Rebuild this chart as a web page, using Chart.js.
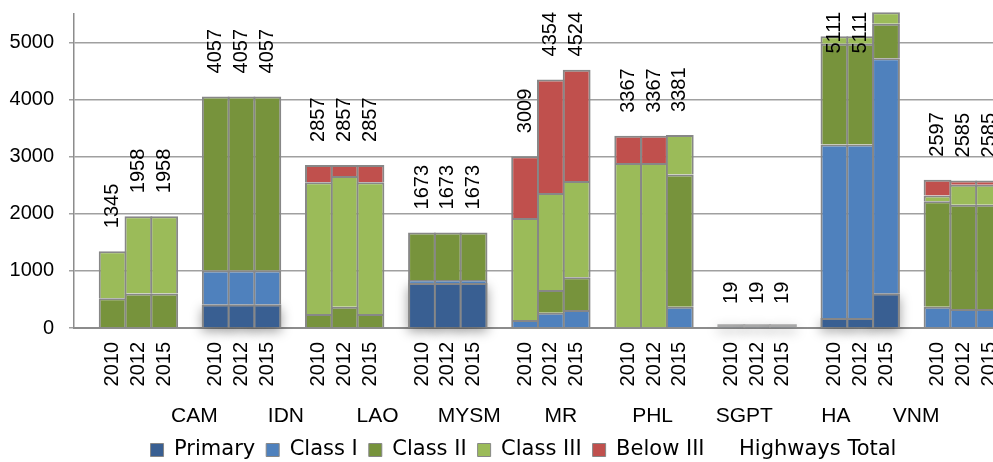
<!DOCTYPE html>
<html>
<head>
<meta charset="utf-8">
<title>Highways by class</title>
<script src="https://cdn.jsdelivr.net/npm/chart.js@4.4.1/dist/chart.umd.min.js"></script>
<style>
  html, body { margin: 0; padding: 0; background: #fff; overflow: hidden; }
  #carreteras { display: block; }
</style>
</head>
<body>
<canvas id="carreteras" width="1002" height="462"></canvas>
<script>
// Países y años (tres barras por país)
const countries = ['CAM', 'IDN', 'LAO', 'MYSM', 'MR', 'PHL', 'SGPT', 'HA', 'VNM'];
const years = ['2010', '2012', '2015'];
const yTicks = [0, 1000, 2000, 3000, 4000, 5000];

// Longitud por clase, en orden país/año (2010, 2012, 2015)
const primary  = [0, 0, 0,  410, 410, 410,  0, 0, 0,  790, 790, 790,  0, 0, 0,  0, 0, 0,  19, 19, 19,  175, 175, 606,  0, 0, 0];
const class1   = [0, 0, 0,  595, 595, 595,  0, 0, 0,  50, 50, 50,  140, 268, 315,  0, 0, 373,  0, 0, 0,  3037, 3037, 4119,  373, 333, 333];
const class2   = [519, 606, 606,  3052, 3052, 3052,  245, 373, 245,  833, 833, 833,  0, 398, 572,  0, 0, 2314,  0, 0, 0,  1765, 1765, 603,  1846, 1828, 1828];
const class3   = [826, 1352, 1352,  0, 0, 0,  2307, 2291, 2307,  0, 0, 0,  1788, 1700, 1689,  2892, 2892, 694,  0, 0, 0,  134, 134, 203,  100, 350, 350];
const below3   = [0, 0, 0,  0, 0, 0,  305, 193, 305,  0, 0, 0,  1081, 1988, 1948,  475, 475, 0,  0, 0, 0,  0, 0, 0,  278, 74, 74];
const highwaysTotal = [1345, 1958, 1958,  4057, 4057, 4057,  2857, 2857, 2857,  1673, 1673, 1673,  3009, 4354, 4524,  3367, 3367, 3381,  19, 19, 19,  5111, 5111, 5531,  2597, 2585, 2585];

// Eje X: un hueco al inicio y otro entre países
const xLabels = [''];
const barIndex = [];
countries.forEach((c, i) => {
  if (i > 0) xLabels.push('');
  years.forEach(y => { barIndex.push(xLabels.length); xLabels.push(y); });
});

// Centro de cada país (sus tres barras más el hueco que le sigue)
const countryCenters = countries.map((c, i) => {
  const first = barIndex[i * 3];
  const last = Math.min(first + 3, xLabels.length - 1);
  return (first + last) / 2;
});

function spread(values) {
  const out = new Array(xLabels.length).fill(null);
  values.forEach((v, k) => { out[barIndex[k]] = v; });
  return out;
}

const yMax = 5500;
const gris = '#878787';

Chart.defaults.font.family = '"Liberation Sans", Arial, sans-serif';
Chart.defaults.color = '#000';

function serie(label, values, color) {
  return {
    label: label,
    data: spread(values),
    backgroundColor: color,
    borderColor: gris,
    borderWidth: 2,
    barPercentage: 1.08,
    categoryPercentage: 1,
    clip: false
  };
}

// Sombra suave debajo de las barras "Primary"
const sombraPrimary = {
  id: 'sombraPrimary',
  beforeDatasetsDraw(chart) {
    const ctx = chart.ctx;
    const meta = chart.getDatasetMeta(0);
    const data = chart.data.datasets[0].data;
    ctx.save();
    ctx.fillStyle = '#a8a8a8';
    ctx.shadowColor = 'rgba(0, 0, 0, 0.38)';
    ctx.shadowBlur = 12;
    ctx.shadowOffsetY = 4;
    meta.data.forEach((bar, i) => {
      if (!data[i]) return;
      const p = bar.getProps(['x', 'y', 'base', 'width']);
      const h = Math.max(Math.abs(p.base - p.y), 3);
      ctx.fillRect(p.x - p.width / 2, p.base - h, p.width, h);
    });
    ctx.restore();
  }
};

// La leyenda se centra entre x=45 y el borde derecho
const leyendaDesplazada = {
  id: 'leyendaDesplazada',
  afterLayout(chart) {
    chart.legend.left = 45;
  }
};

// Etiquetas verticales con el total de cada barra
const etiquetasTotal = {
  id: 'etiquetasTotal',
  afterDatasetsDraw(chart) {
    const ctx = chart.ctx;
    const meta = chart.getDatasetMeta(5);
    const data = chart.data.datasets[5].data;
    const top = chart.chartArea.top - 2;
    ctx.save();
    ctx.font = '20px "Liberation Sans", Arial, sans-serif';
    ctx.fillStyle = '#000';
    ctx.textAlign = 'left';
    ctx.textBaseline = 'middle';
    meta.data.forEach((pt, i) => {
      const v = data[i];
      if (v == null || v > yMax) return;
      const txt = String(v);
      const w = ctx.measureText(txt).width;
      let start = pt.y - 23;
      if (start - w < top) start = top + w;
      ctx.save();
      ctx.translate(pt.x, start);
      ctx.rotate(-Math.PI / 2);
      ctx.fillText(txt, 0, 0);
      ctx.restore();
    });
    ctx.restore();
  }
};

new Chart(document.getElementById('carreteras'), {
  type: 'bar',
  data: {
    labels: xLabels,
    datasets: [
      serie('Primary', primary, '#395f92'),
      serie('Class I', class1, '#4f81bd'),
      serie('Class II', class2, '#77933c'),
      serie('Class III', class3, '#9bbb59'),
      serie('Below III', below3, '#c0504d'),
      {
        type: 'line',
        label: 'Highways Total',
        data: spread(highwaysTotal),
        showLine: false,
        pointRadius: 0,
        pointHoverRadius: 0,
        borderColor: 'rgba(0,0,0,0)',
        backgroundColor: 'rgba(0,0,0,0)'
      }
    ]
  },
  options: {
    responsive: false,
    animation: false,
    devicePixelRatio: 1,
    layout: { padding: { top: 14, left: 0, right: 0, bottom: -8.5 } },
    plugins: {
      tooltip: { enabled: false },
      legend: {
        position: 'bottom',
        labels: {
          boxWidth: 13,
          boxHeight: 13,
          padding: 11,
          color: '#000',
          font: { family: '"DejaVu Sans", sans-serif', size: 21 },
          generateLabels(chart) {
            const items = Chart.defaults.plugins.legend.labels.generateLabels(chart);
            items.forEach(it => { it.lineWidth = 1; });
            return items;
          }
        }
      }
    },
    scales: {
      x: {
        stacked: true,
        weight: 0,
        grid: { display: false, drawTicks: false },
        border: { color: '#8c8c8c', width: 2 },
        ticks: { autoSkip: false, minRotation: 90, maxRotation: 90, padding: 14, font: { size: 20 } },
        afterFit(s) { s.height = 70; s.paddingLeft = 0; s.paddingRight = 0; }
      },
      x2: {
        type: 'linear',
        position: 'bottom',
        weight: 1,
        min: -0.5,
        max: xLabels.length - 0.5,
        bounds: 'data',
        grid: { display: false, drawTicks: false },
        border: { display: false },
        afterBuildTicks(s) { s.ticks = countryCenters.map(v => ({ value: v })); },
        afterFit(s) { s.height = 30.5; s.paddingLeft = 0; s.paddingRight = 0; },
        ticks: {
          autoSkip: false, maxRotation: 0, padding: 6, font: { size: 21 },
          callback: (v, i) => countries[i]
        }
      },
      y: {
        stacked: true,
        min: 0,
        max: yMax,
        afterBuildTicks(s) { s.ticks = yTicks.map(v => ({ value: v })); },
        afterFit(s) { s.width = 74; s.paddingTop = 0; s.paddingBottom = 0; },
        grid: { color: '#a0a0a0', lineWidth: 1.5, tickLength: 5 },
        border: { color: '#8c8c8c', width: 1.5 },
        ticks: { padding: 15, font: { size: 20 }, callback: v => String(v) }
      }
    }
  },
  plugins: [sombraPrimary, leyendaDesplazada, etiquetasTotal]
});
</script>
</body>
</html>
